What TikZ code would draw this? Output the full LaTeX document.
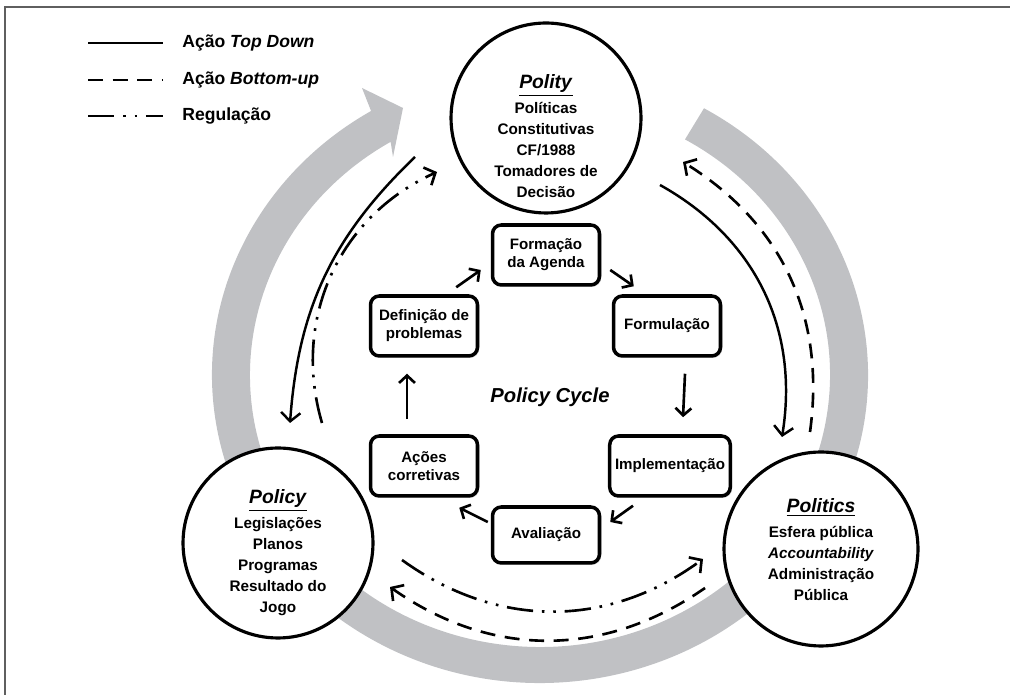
\documentclass[tikz,border=0pt]{standalone}
\usepackage{fontspec}
\setmainfont{Liberation Sans}
\usetikzlibrary{calc, arrows.meta, shadows}
\definecolor{bandgray}{RGB}{192,193,196}
\definecolor{framegray}{RGB}{95,95,95}
\tikzset{
	bigcirc/.style={
		draw,
		circle,
		fill=white,
		line width=1.8pt,
		inner sep=0pt,
		minimum size=3.8cm
	},
	circtxt/.style={
		align=center,
		font=\bfseries\fontsize{8.7}{12}\selectfont
	},
	cycbox/.style={
		draw,
		rounded corners=5pt,
		fill=white,
		line width=2pt,
		minimum width=2.14cm,
		minimum height=1.2cm,
		inner xsep=3pt,
		align=center,
		font=\bfseries\fontsize{8.6}{10.2}\selectfont,
		drop shadow={shadow xshift=1pt, shadow yshift=-1pt, fill=black!35}
	},
	legtxt/.style={
		anchor=west,
		inner sep=0pt,
		font=\bfseries\fontsize{10}{12}\selectfont
	},
	cyc/.style={line width=1.5pt, -{Straight Barb[length=4.2pt, width=9pt]}},
	topdown/.style={line width=1.4pt},
	bottomup/.style={line width=1.5pt, dash pattern=on 8.5pt off 5.5pt},
	regul/.style={line width=1.5pt, dash pattern=on 15pt off 5pt on 1.5pt off 5pt on 1.5pt off 5pt},
	bigtip/.style={-{Straight Barb[length=5pt, width=11pt]}}
}
\newcommand{\circtitle}[1]{{\fontsize{11}{13}\selectfont\underline{\textit{#1}}}}

\begin{document}
\begin{tikzpicture}[x=0.02cm, y=0.02cm]
	\useasboundingbox (0,0) rectangle (1010,695);
	
	% frame
	\draw[framegray, line width=1.1pt] (5,0) -- (5,688) -- (1010,688);
	
	% gray cycle arrow
	\fill[bandgray, shift={(540,320)}] (60:328 and 308)
		arc[start angle=60, end angle=-239, x radius=328, y radius=308]
		-- (-178,287) -- (-137,267) -- (-147,218)
		-- (-239:290 and 272)
		arc[start angle=-239, end angle=60, x radius=290, y radius=272]
		-- cycle;
	
	% legend
	\node[legtxt] (legtd) at (182,652) {Ação \textit{Top Down}};
	\node[legtxt] (legbu) at (182,615) {Ação \textit{Bottom-up}};
	\node[legtxt] (legreg) at (182,579) {Regulação};
	\draw[topdown] ($(legtd.west)+(-94,0)$) -- ($(legtd.west)+(-19,0)$);
	\draw[bottomup] ($(legbu.west)+(-94,0)$) -- ($(legbu.west)+(-19,0)$);
	\draw[regul] ($(legreg.west)+(-94,0)$) -- ($(legreg.west)+(-19,0)$);
	
	% the three dimensions
	\node[bigcirc] (polity) at (546,577) {};
	\node[bigcirc] (policy) at (278,152) {};
	\node[bigcirc, minimum size=3.88cm] (politics) at (821,146) {};
	
	\node[circtxt] (politytxt) at ($(polity)+(0,-18)$)
		{\circtitle{Polity}\\[2pt] Políticas\\ Constitutivas\\ CF/1988\\ Tomadores de\\ Decisão};
	\node[circtxt] (policytxt) at ($(policy)+(0,-10)$)
		{\circtitle{Policy}\\[2pt] Legislações\\ Planos\\ Programas\\ Resultado do\\ Jogo};
	\node[circtxt] (politicstxt) at ($(politics)+(0,-1)$)
		{\circtitle{Politics}\\[2pt] Esfera pública\\ \textit{Accountability}\\ Administração\\ Pública};
	
	% policy cycle
	\node[cycbox] (agenda) at (546,440) {Formação\\da Agenda};
	\node[cycbox] (formul) at (667,369) {Formulação};
	\node[cycbox] (implem) at (670,229) {Implementação};
	\node[cycbox, minimum height=1.12cm] (avalia) at (546,160) {Avaliação};
	\node[cycbox] (acoes) at (424,229) {Ações\\corretivas};
	\node[cycbox] (defin) at (424,369) {Definição de\\problemas};
	\node[font=\bfseries\itshape\fontsize{11.5}{14}\selectfont] (cycle) at (550,298) {Policy Cycle};
	
	\begin{scope}[cyc]
		\draw ($(defin.north east)+(-23,7)$) -- ($(agenda.west)+(-10,-15)$);
		\draw ($(agenda.east)+(9,-15)$) -- ($(formul.north west)+(22,8)$);
		\draw ($(formul.south)+(18,-16)$) -- ($(implem.north)+(13,17)$);
		\draw ($(implem.south)+(-37,-8)$) -- ($(avalia.east)+(9,13)$);
		\draw ($(avalia.west)+(-3,13)$) -- ($(acoes.south east)+(-20,-10)$);
		\draw ($(acoes.north)+(-17,15)$) -- ($(defin.south)+(-17,-16)$);
	\end{scope}
	
	% actions between the dimensions
	\coordinate (tdr1) at ($(polity)+(114,-67)$);
	\coordinate (tdr2) at ($(politics)+(-39,112)$);
	\coordinate (bur1) at ($(politics)+(-11,117)$);
	\coordinate (bur2) at ($(polity)+(137,-44)$);
	\coordinate (tdl1) at ($(polity)+(-131,-39)$);
	\coordinate (tdl2) at ($(policy)+(12,120)$);
	\coordinate (rgl1) at ($(policy)+(44,120)$);
	\coordinate (rgl2) at ($(polity)+(-109,-54)$);
	\coordinate (rgb1) at ($(policy)+(124,-17)$);
	\coordinate (rgb2) at ($(politics)+(-118,-10)$);
	\coordinate (bub1) at ($(politics)+(-116,-39)$);
	\coordinate (bub2) at ($(policy)+(112,-44)$);
	
	\draw[topdown, bigtip] (tdr1) to[bend left=35] (tdr2);
	\draw[bottomup, bigtip] (bur1) to[bend right=33] (bur2);
	\draw[topdown, bigtip] (tdl1) to[bend right=21] (tdl2);
	\draw[regul, bigtip] (rgl1) to[bend left=41] (rgl2);
	\draw[regul, bigtip] (rgb1) to[bend right=36] (rgb2);
	\draw[bottomup, bigtip] (bub1) to[bend left=35] (bub2);
\end{tikzpicture}
\end{document}
